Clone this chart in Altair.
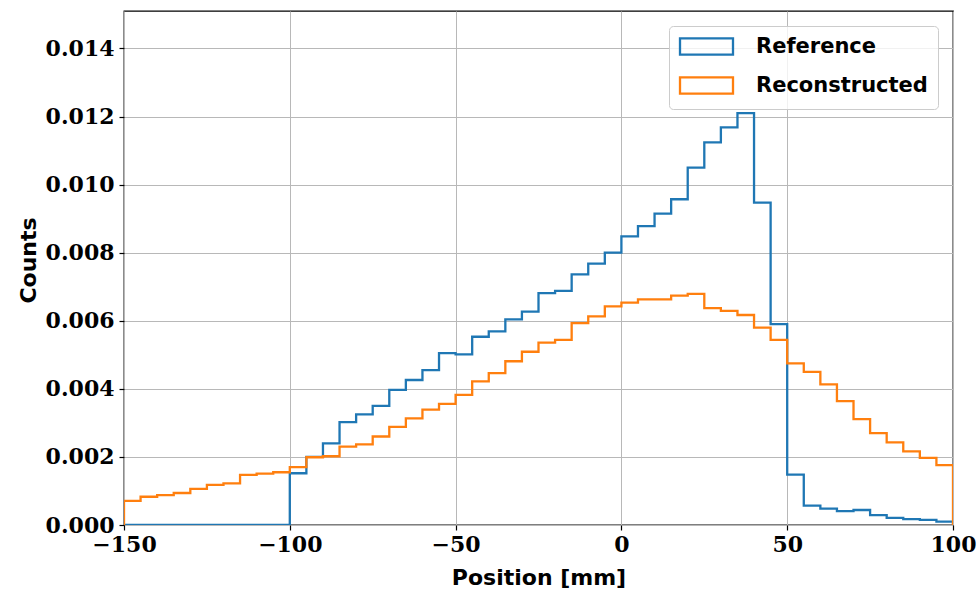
import altair as alt
import pandas as pd

# ---- data (bin width 5 mm, left edges from -150 to 95) ----
bin_edges = list(range(-150, 101, 5))  # 51 edges
reference = [
    0, 0, 0, 0, 0, 0, 0, 0, 0, 0,
    0.00152, 0.00200, 0.00240, 0.00302, 0.00325, 0.00350, 0.00397, 0.00426, 0.00455, 0.00505,
    0.00501, 0.00553, 0.00569, 0.00604, 0.00627, 0.00681, 0.00688, 0.00736, 0.00768, 0.00800,
    0.00848, 0.00878, 0.00915, 0.00957, 0.01050, 0.01124, 0.01168, 0.01210, 0.00947, 0.00590,
    0.00148, 0.00057, 0.00048, 0.00041, 0.00044, 0.00029, 0.00021, 0.00017, 0.00015, 0.00010,
]
reconstructed = [
    0.00071, 0.00083, 0.00088, 0.00094, 0.00106, 0.00118, 0.00122, 0.00147, 0.00151, 0.00155,
    0.00170, 0.00199, 0.00202, 0.00230, 0.00237, 0.00260, 0.00288, 0.00313, 0.00339, 0.00356,
    0.00382, 0.00422, 0.00446, 0.00481, 0.00509, 0.00536, 0.00544, 0.00593, 0.00613, 0.00642,
    0.00653, 0.00663, 0.00663, 0.00674, 0.00679, 0.00637, 0.00629, 0.00617, 0.00580, 0.00544,
    0.00475, 0.00450, 0.00413, 0.00364, 0.00311, 0.00270, 0.00243, 0.00216, 0.00197, 0.00176,
]
series_names = ["Reference", "Reconstructed"]
series_colors = ["#1f77b4", "#ff7f0e"]
x_ticks = [-150, -100, -50, 0, 50, 100]
y_ticks = [0, 0.002, 0.004, 0.006, 0.008, 0.010, 0.012, 0.014]


def step_rows(name, values):
    rows = [{"series": name, "idx": 0, "x": bin_edges[0], "y": 0.0}]
    for i, v in enumerate(values):
        rows.append({"series": name, "idx": i + 1, "x": bin_edges[i], "y": v})
    n = len(values)
    rows.append({"series": name, "idx": n + 1, "x": bin_edges[-1], "y": values[-1]})
    rows.append({"series": name, "idx": n + 2, "x": bin_edges[-1], "y": 0.0})
    return rows


df = pd.DataFrame(step_rows("Reference", reference) + step_rows("Reconstructed", reconstructed))

tick_font = "DejaVu Serif"
text_font = "DejaVu Sans"

legend_path = "M-3,-0.93L3,-0.93L3,0.93L-3,0.93Z"

base = alt.Chart(df).mark_line(interpolate="step-after", strokeWidth=2.3, clip=True).encode(
    x=alt.X(
        "x:Q",
        scale=alt.Scale(domain=[-150, 100], nice=False, zero=False),
        axis=alt.Axis(
            values=x_ticks, title="Position [mm]", grid=True, domain=False,
            labelFont=tick_font, labelFontSize=22, labelFontWeight="bold", labelColor="black",
            labelPadding=4, labelFlush=False,
            titleFont=text_font, titleFontSize=22, titleFontWeight="bold", titleColor="black",
            titleBaseline="alphabetic", titleY=59,
        ),
    ),
    y=alt.Y(
        "y:Q",
        scale=alt.Scale(domain=[0, 0.0151], nice=False),
        axis=alt.Axis(
            values=y_ticks, format=".3f", title="Counts", grid=True, domain=False,
            labelFont=tick_font, labelFontSize=22, labelFontWeight="bold", labelColor="black",
            labelPadding=5,
            titleFont=text_font, titleFontSize=22, titleFontWeight="bold", titleColor="black",
            titleBaseline="alphabetic", titleX=-89, titleY=249, titleAngle=270,
        ),
    ),
    color=alt.Color(
        "series:N",
        scale=alt.Scale(domain=series_names, range=series_colors),
        legend=alt.Legend(
            title=None, orient="none", legendX=545, legendY=15,
            symbolType=legend_path, symbolSize=312, symbolStrokeWidth=2.3,
            symbolFillColor="transparent", symbolOffset=17,
            labelFont=text_font, labelFontSize=21, labelFontWeight="bold", labelColor="black",
            labelOffset=39, labelLimit=400, rowPadding=12, padding=10, cornerRadius=4,
            strokeColor="#cccccc", fillColor="rgba(255,255,255,0.8)",
        ),
    ),
    order="idx:Q",
)

ref_layer = base.transform_filter(alt.datum.series == "Reference")
rec_layer = base.transform_filter(alt.datum.series == "Reconstructed")

chart = alt.layer(ref_layer, rec_layer).properties(
    width=829, height=514,
    background="white",
    autosize=alt.AutoSizeParams(type="none"),
    padding={"left": 124, "top": 11, "right": 24, "bottom": 65},
).configure_view(
    stroke="#000000", strokeWidth=1.3,
).configure_axis(
    gridColor="#b8b8b8", gridWidth=1, tickColor="black", tickSize=5, tickWidth=1.2,
)

chart.save("out.html", embed_options={"renderer": "svg", "actions": False})
